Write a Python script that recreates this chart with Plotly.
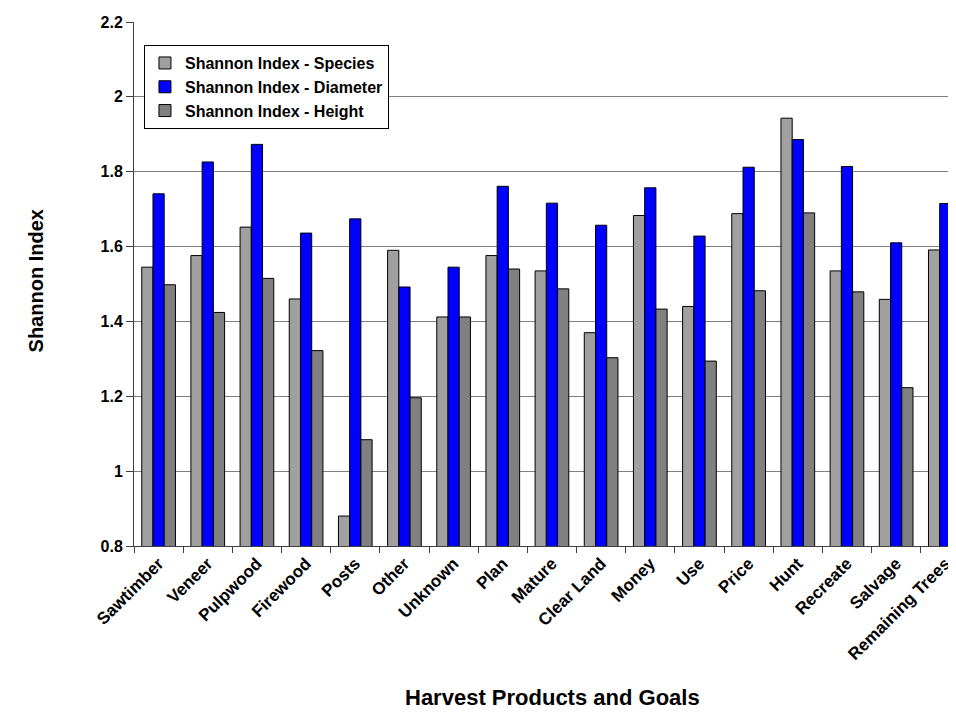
import plotly.graph_objects as go

categories = ["Sawtimber", "Veneer", "Pulpwood", "Firewood", "Posts", "Other", "Unknown",
              "Plan", "Mature", "Clear Land", "Money", "Use", "Price", "Hunt", "Recreate",
              "Salvage", "Remaining Trees"]
species = [1.545, 1.576, 1.652, 1.460, 0.880, 1.590, 1.412, 1.576, 1.535, 1.370,
           1.683, 1.440, 1.688, 1.943, 1.535, 1.459, 1.591]
diameter = [1.741, 1.826, 1.873, 1.636, 1.674, 1.492, 1.545, 1.761, 1.716, 1.657,
            1.757, 1.628, 1.812, 1.886, 1.814, 1.610, 1.715]
height = [1.498, 1.424, 1.515, 1.322, 1.084, 1.196, 1.412, 1.540, 1.487, 1.303,
          1.433, 1.294, 1.482, 1.690, 1.479, 1.223, 1.432]

series_names = ["Shannon Index - Species", "Shannon Index - Diameter", "Shannon Index - Height"]
series_colors = ["#A0A0A0", "#0000FF", "#808080"]

FONT = "Arial, Liberation Sans, sans-serif"

fig = go.Figure()
for name, vals, col in zip(series_names, [species, diameter, height], series_colors):
    fig.add_trace(go.Bar(
        x=categories, y=vals, name=name, legendgroup=name,
        marker=dict(color=col, line=dict(color="black", width=1)),
    ))

fig.update_layout(
    width=956, height=715,
    margin=dict(l=126, r=0, t=14, b=177),
    paper_bgcolor="white", plot_bgcolor="white",
    barmode="group", bargap=0.315, bargroupgap=0,
    font=dict(family=FONT, color="black"),
    showlegend=True,
    legend=dict(
        x=0.012, y=0.956, xanchor="left", yanchor="top",
        bgcolor="white", bordercolor="black", borderwidth=1,
        font=dict(family=FONT, size=16, weight="bold", color="black"),
        traceorder="normal", itemwidth=30,
        tracegroupgap=5,
    ),
    xaxis=dict(
        range=[-0.5, 16.38],
        showline=True, linecolor="#404040", linewidth=1,
        ticks="outside", tickson="boundaries", ticklen=6, tickcolor="#404040",
        tickangle=-45,
        tickfont=dict(family=FONT, size=17, weight="bold", color="black"),
        showgrid=False,
    ),
    yaxis=dict(
        range=[0.8, 2.2], tick0=0.8, dtick=0.2,
        showline=True, linecolor="#404040", linewidth=1,
        ticks="outside", ticklen=7, tickcolor="#404040",
        tickfont=dict(family=FONT, size=16, weight="bold", color="black"),
        showgrid=True, gridcolor="#808080", gridwidth=1,
        zeroline=False,
    ),
    annotations=[
        dict(text="Harvest Products and Goals", xref="paper", yref="paper",
             x=0.504, y=-0.29, xanchor="center", yanchor="middle", showarrow=False,
             font=dict(family=FONT, size=22, weight="bold", color="black")),
        dict(text="Shannon Index", xref="paper", yref="paper",
             x=-0.118, y=0.505, xanchor="center", yanchor="middle", showarrow=False,
             textangle=-90,
             font=dict(family=FONT, size=20, weight="bold", color="black")),
    ],
)

fig.write_html("out.html")
